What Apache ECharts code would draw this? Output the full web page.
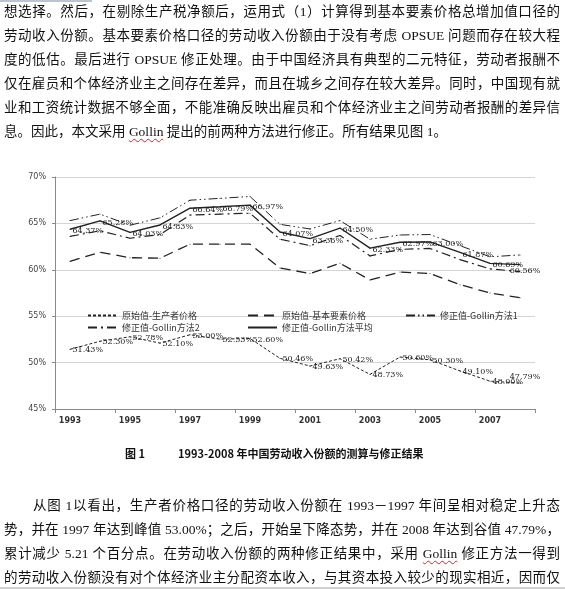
<!DOCTYPE html>
<html>
<head>
<meta charset="utf-8">
<script src="https://cdn.jsdelivr.net/npm/echarts@6/dist/echarts.min.js"></script>
<style>
  html, body { margin: 0; padding: 0; background: #fff; }
  #page { position: relative; width: 565px; height: 589px; overflow: hidden; }
  #chart { position: absolute; left: 0; top: 0; width: 565px; height: 589px; }
  .txt {
    position: absolute; left: 4px; width: 556px;
    font-family: "Liberation Serif", "Noto Sans CJK SC", serif;
    font-size: 13.5px; line-height: 24px; color: #111;
  }
  .txt div { text-align: justify; text-align-last: justify; white-space: nowrap; }
  .txt div.last { text-align-last: left; }
  .wavy { text-decoration: underline wavy #d22; text-decoration-thickness: 1px; text-underline-offset: 2px; }
  #caption {
    position: absolute; top: 445px; left: 125px;
    font-family: "Noto Sans CJK SC", sans-serif; font-weight: bold;
    font-size: 11px; line-height: 16px; color: #111; white-space: nowrap;
  }
</style>
</head>
<body>
<div id="page">
  <div id="chart"></div>
  <div style="position:absolute;left:0;top:0;width:92px;height:2px;background:#b9c5d2"></div>
  <div class="txt" style="top:0">
    <div>想选择。然后，在剔除生产税净额后，运用式（1）计算得到基本要素价格总增加值口径的</div>
    <div>劳动收入份额。基本要素价格口径的劳动收入份额由于没有考虑 OPSUE 问题而存在较大程</div>
    <div>度的低估。最后进行 OPSUE 修正处理。由于中国经济具有典型的二元特征，劳动者报酬不</div>
    <div>仅在雇员和个体经济业主之间存在差异，而且在城乡之间存在较大差异。同时，中国现有就</div>
    <div>业和工资统计数据不够全面，不能准确反映出雇员和个体经济业主之间劳动者报酬的差异信</div>
    <div class="last">息。因此，本文采用 <span class="wavy">Gollin</span> 提出的前两种方法进行修正。所有结果见图 1。</div>
  </div>
  <div id="caption">图 1<span style="display:inline-block;width:33px"></span>1993-2008 年中国劳动收入份额的测算与修正结果</div>
  <div class="txt" style="top:494px">
    <div style="padding-left:29px">从图 1以看出，生产者价格口径的劳动收入份额在 1993－1997 年间呈相对稳定上升态</div>
    <div>势，并在 1997 年达到峰值 53.00%；之后，开始呈下降态势，并在 2008 年达到谷值 47.79%，</div>
    <div>累计减少 5.21 个百分点。在劳动收入份额的两种修正结果中，采用 <span class="wavy">Gollin</span> 修正方法一得到</div>
    <div>的劳动收入份额没有对个体经济业主分配资本收入，与其资本投入较少的现实相近，因而仅</div>
  </div>
  <div style="position:absolute;left:0;top:587px;width:565px;height:2px;background:#cfcfcf"></div>
</div>
<script>
// 年份
var years = ['1993','1994','1995','1996','1997','1998','1999','2000',
             '2001','2002','2003','2004','2005','2006','2007','2008'];
// 原始值-生产者价格
var producerPrice = [51.43, 52.30, 52.78, 52.10, 53.00, 52.53, 52.60, 50.46,
                     49.63, 50.42, 48.73, 50.60, 50.30, 49.10, 48.00, 47.79];
// 原始值-基本要素价格
var factorPrice = [60.9, 61.9, 61.3, 61.25, 62.76, 62.76, 62.76, 60.2,
                   59.6, 60.7, 58.9, 59.75, 59.6, 58.4, 57.5, 57.0];
// 修正值-Gollin方法1
var gollin1 = [65.3, 66.0, 64.8, 65.6, 67.5, 67.7, 67.9, 64.9,
               64.4, 65.3, 63.3, 63.75, 63.8, 62.6, 61.4, 61.6];
// 修正值-Gollin方法2
var gollin2 = [63.6, 64.2, 63.4, 63.8, 65.9, 66.0, 66.1, 63.3,
               62.6, 63.7, 61.5, 62.2, 62.3, 61.1, 60.1, 59.8];
// 修正值-Gollin方法平均
var gollinAvg = [64.37, 65.28, 64.03, 64.83, 66.64, 66.79, 66.97, 64.07,
                 63.36, 64.50, 62.33, 62.97, 63.00, 61.87, 60.69, 60.56];

var names = ['原始值-生产者价格', '原始值-基本要素价格', '修正值-Gollin方法1',
             '修正值-Gollin方法2', '修正值-Gollin方法平均'];

var chart = echarts.init(document.getElementById('chart'));

function labelStyle(dy){
    return {
        show: true,
        position: 'right',
        distance: 2,
        offset: [0, dy],
        fontFamily: 'DejaVu Serif',
        fontSize: 8,
        color: '#222',
        formatter: function(p){ return p.value.toFixed(2) + '%'; }
    };
}

//最后一个点的标签放到上方或下方，免得超出右边
function withLastLabel(data, pos){
    var last = data.length - 1;
    return data.map(function(v, i){
        if (i !== last) return v;
        return { value: v, label: { position: pos, distance: 2, offset: [5, 0] } };
    });
}

//图例，每项单独放置以对齐两行
function legendAt(name, left, top){
    return {
        data: [name],
        left: left,
        top: top,
        itemWidth: 29,
        itemHeight: 10,
        selectedMode: false,
        itemStyle: { opacity: 0 },
        textStyle: { fontFamily: 'Noto Sans CJK SC', fontSize: 9, color: '#333' }
    };
}

//折线，dy 不为 null 时显示数据标签
function lineSeries(name, data, width, dash, dy){
    var s = {
        name: name, type: 'line', data: data,
        symbol: 'circle', symbolSize: 1, showSymbol: true,
        color: '#222',
        itemStyle: { color: '#222' },
        lineStyle: { width: width, type: dash, color: '#222' },
        emphasis: { disabled: true }
    };
    if (dy !== null) s.label = labelStyle(dy);
    return s;
}

var option = {
    animation: false,
    backgroundColor: 'transparent',
    grid: { left: 55, right: 30, top: 177, bottom: 180 },
    legend: [
        legendAt(names[0], 82, 306),
        legendAt(names[1], 242, 306),
        legendAt(names[2], 400, 306),
        legendAt(names[3], 82, 318),
        legendAt(names[4], 242, 318)
    ],
    xAxis: {
        type: 'category',
        data: years,
        boundaryGap: true,
        axisLine: { lineStyle: { color: '#8a8a8a' } },
        axisTick: { show: true, length: 4, lineStyle: { color: '#8a8a8a' } },
        axisLabel: {
            interval: 1,
            margin: 8,
            fontFamily: 'DejaVu Sans',
            fontWeight: 'bold',
            fontSize: 8,
            color: '#333'
        }
    },
    yAxis: {
        type: 'value',
        min: 45,
        max: 70,
        interval: 5,
        axisLine: { show: true, lineStyle: { color: '#8a8a8a' } },
        axisTick: { show: true, length: 3, lineStyle: { color: '#8a8a8a' } },
        axisLabel: {
            margin: 9,
            formatter: '{value}%',
            fontFamily: 'DejaVu Sans',
            fontSize: 8,
            color: '#444'
        },
        splitLine: { lineStyle: { color: '#d4d4d4', width: 1.2 } }
    },
    series: [
        lineSeries(names[0], withLastLabel(producerPrice, 'top'), 1, [3, 2], 1),
        lineSeries(names[1], factorPrice, 1.3, [10, 6], null),
        lineSeries(names[2], gollin1, 1, [9, 3, 1.5, 3, 1.5, 3], null),
        lineSeries(names[3], gollin2, 1.2, [9, 4, 2, 4], null),
        lineSeries(names[4], withLastLabel(gollinAvg, 'bottom'), 1.4, 'solid', 2)
    ]
};
chart.setOption(option);
</script>
</body>
</html>
